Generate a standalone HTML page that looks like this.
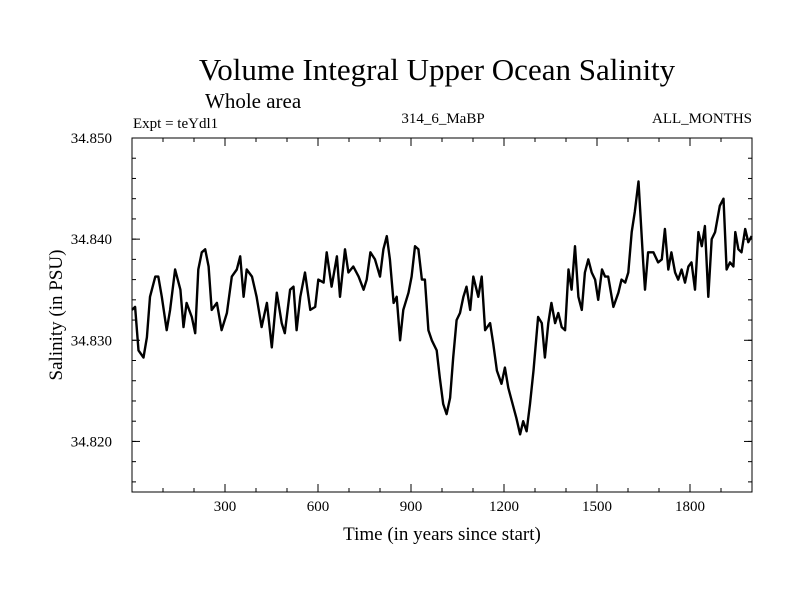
<!DOCTYPE html>
<html><head><meta charset="utf-8"><style>
body{margin:0;background:#fff;}
svg text{font-family:"Liberation Serif",serif;fill:#000;}
</style></head><body>
<svg id="chart" width="800" height="600" xmlns="http://www.w3.org/2000/svg">
<text x="437" y="80" font-size="31" text-anchor="middle">Volume Integral Upper Ocean Salinity</text>
<text x="205" y="108" font-size="21">Whole area</text>
<text x="133" y="128" font-size="15">Expt = teYdl1</text>
<text x="443" y="123" font-size="15" text-anchor="middle">314_6_MaBP</text>
<text x="752" y="123" font-size="15" text-anchor="end">ALL_MONTHS</text>
<text x="0" y="0" font-size="19" text-anchor="middle" transform="translate(62,315) rotate(-90)">Salinity (in PSU)</text>
<text x="442" y="540" font-size="19" text-anchor="middle">Time (in years since start)</text>
<g id="axes"></g>
<path id="series" fill="none" stroke="#000" stroke-width="2.4" stroke-linejoin="round"/>
<rect x="132" y="138" width="620" height="354" fill="none" stroke="#000" stroke-width="1"/>
</svg>
<script>
const years=[0,10,21,37,48,58,75,85,96,112,123,139,156,166,176,193,204,214,225,236,247,257,274,289,306,322,338,349,360,370,387,402,418,435,451,467,483,493,510,521,531,543,558,575,591,601,618,628,644,661,671,687,698,714,731,747,757,769,784,800,811,822,832,844,854,865,875,892,902,913,924,935,945,956,967,983,993,1004,1015,1026,1036,1047,1058,1069,1079,1091,1101,1117,1128,1139,1155,1165,1177,1192,1203,1214,1225,1240,1252,1262,1273,1284,1295,1310,1322,1332,1343,1353,1365,1375,1386,1397,1408,1418,1429,1440,1451,1461,1472,1483,1494,1504,1516,1526,1536,1553,1569,1579,1591,1601,1612,1622,1634,1639,1649,1655,1665,1682,1697,1709,1719,1730,1740,1752,1762,1773,1784,1795,1805,1816,1827,1838,1848,1859,1870,1881,1896,1908,1918,1929,1940,1946,1956,1966,1978,1988,1999];
const salinity=[34.8330,34.8333,34.8290,34.8283,34.8303,34.8343,34.8363,34.8363,34.8343,34.8310,34.8330,34.8370,34.8350,34.8313,34.8337,34.8323,34.8307,34.8370,34.8387,34.8390,34.8373,34.8330,34.8337,34.8310,34.8327,34.8363,34.8370,34.8383,34.8343,34.8370,34.8363,34.8343,34.8313,34.8337,34.8293,34.8347,34.8317,34.8307,34.8350,34.8353,34.8310,34.8343,34.8367,34.8330,34.8333,34.8360,34.8357,34.8387,34.8353,34.8383,34.8343,34.8390,34.8367,34.8373,34.8363,34.8350,34.8360,34.8387,34.8380,34.8363,34.8390,34.8403,34.8380,34.8337,34.8343,34.8300,34.8330,34.8347,34.8363,34.8393,34.8390,34.8360,34.8360,34.8310,34.8300,34.8290,34.8263,34.8237,34.8227,34.8243,34.8283,34.8320,34.8327,34.8343,34.8353,34.8330,34.8363,34.8343,34.8363,34.8310,34.8317,34.8297,34.8270,34.8257,34.8273,34.8253,34.8240,34.8223,34.8207,34.8220,34.8210,34.8237,34.8270,34.8323,34.8317,34.8283,34.8317,34.8337,34.8317,34.8327,34.8313,34.8310,34.8370,34.8350,34.8393,34.8343,34.8330,34.8367,34.8380,34.8367,34.8360,34.8340,34.8370,34.8363,34.8363,34.8333,34.8347,34.8360,34.8357,34.8367,34.8407,34.8427,34.8457,34.8430,34.8377,34.8350,34.8387,34.8387,34.8377,34.8380,34.8410,34.8370,34.8387,34.8367,34.8360,34.8370,34.8357,34.8373,34.8377,34.8350,34.8407,34.8393,34.8413,34.8343,34.8400,34.8407,34.8433,34.8440,34.8370,34.8377,34.8373,34.8407,34.8390,34.8387,34.8410,34.8397,34.8403];
const yTicks=[34.820,34.830,34.840,34.850];
const yTickLabels=["34.820","34.830","34.840","34.850"];
const xTicks=[300,600,900,1200,1500,1800];
const xTickLabels=["300","600","900","1200","1500","1800"];

const X0=132,X1=752,Y0=492,Y1=138,xmin=0,xmax=2000,ymin=34.815,ymax=34.850;
const sx=v=>X0+(v-xmin)/(xmax-xmin)*(X1-X0);
const sy=v=>Y0-(v-ymin)/(ymax-ymin)*(Y0-Y1);
const NS="http://www.w3.org/2000/svg";
const axes=document.getElementById('axes');
function line(x1,y1,x2,y2,name){const l=document.createElementNS(NS,'line');
l.setAttribute('x1',x1);l.setAttribute('y1',y1);l.setAttribute('x2',x2);l.setAttribute('y2',y2);l.setAttribute('stroke','#000');


axes.appendChild(l);}
function txt(x,y,s,anchor,name){const t=document.createElementNS(NS,'text');
t.setAttribute('x',x);t.setAttribute('y',y);t.setAttribute('font-size','15');t.setAttribute('text-anchor',anchor);t.textContent=s;


axes.appendChild(t);}
for(let v=34.816;v<34.8505;v+=0.002){const y=sy(v);line(X0,y,X0+4,y,'y-minor-tick');line(X1,y,X1-4,y,'y-minor-tick');}
yTicks.forEach((v,i)=>{const y=sy(v);line(X0,y,X0+8,y,'y-major-tick');line(X1,y,X1-8,y,'y-major-tick');txt(112,y+5,yTickLabels[i],'end','y-tick-label');});
for(let v=100;v<xmax;v+=100){const x=sx(v);line(x,Y0,x,Y0-4,'x-minor-tick');line(x,Y1,x,Y1+4,'x-minor-tick');}
xTicks.forEach((v,i)=>{const x=sx(v);line(x,Y0,x,Y0-8,'x-major-tick');line(x,Y1,x,Y1+8,'x-major-tick');txt(x,511,xTickLabels[i],'middle','x-tick-label');});
let d='';years.forEach((yr,i)=>{d+=(i?'L':'M')+sx(yr).toFixed(1)+' '+sy(salinity[i]).toFixed(1);});
document.getElementById('series').setAttribute('d',d);
</script>
</body></html>
